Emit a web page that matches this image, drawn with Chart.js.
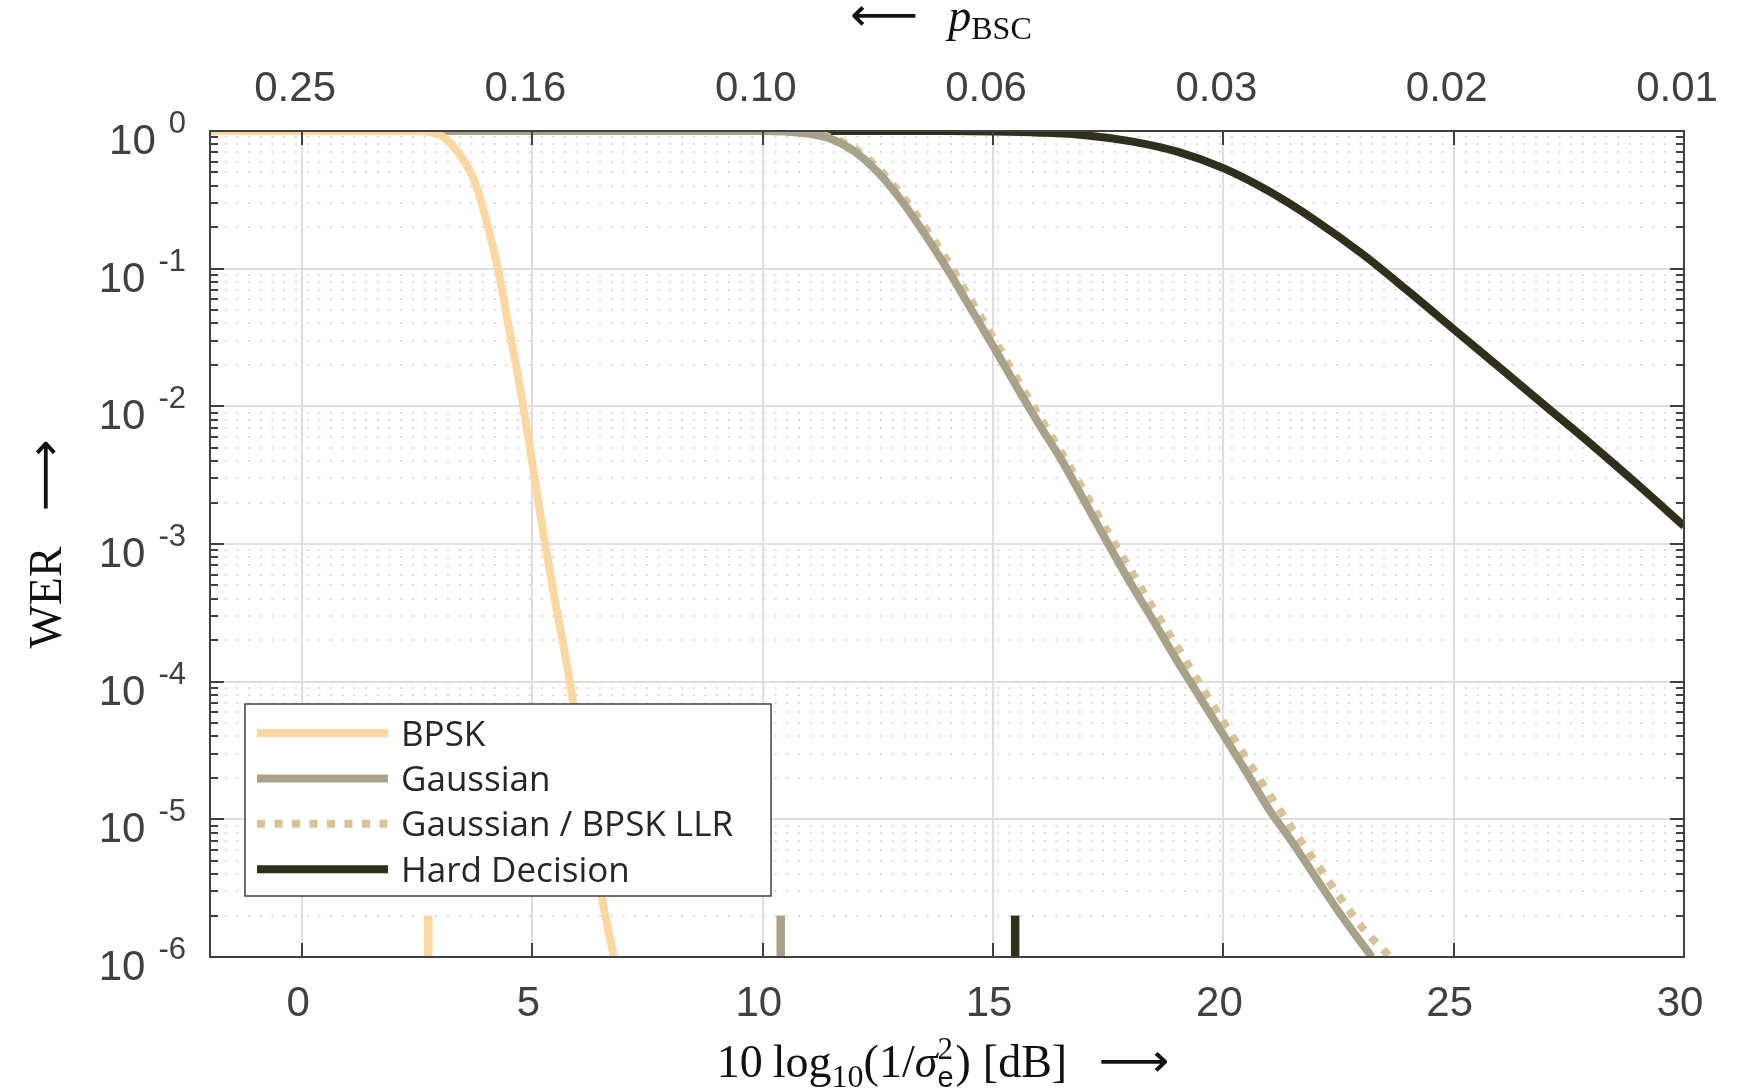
<!DOCTYPE html>
<html>
<head>
<meta charset="utf-8">
<title>WER</title>
<script src="https://cdn.jsdelivr.net/npm/chart.js@4.4.1/dist/chart.umd.min.js"></script>
<style>
  html, body { margin: 0; padding: 0; background: #fff; }
  #wrap { width: 1738px; height: 1091px; }
</style>
</head>
<body>
<div id="wrap"><canvas id="werChart" width="1738" height="1091"></canvas></div>
<script>
// axis ticks
const xTicks = [0, 5, 10, 15, 20, 25, 30];
const pBscLabels = ["0.25", "0.16", "0.10", "0.06", "0.03", "0.02", "0.01"];
const werDecades = [0, -1, -2, -3, -4, -5, -6];

// curves: SNR in dB, WER
const bpskSnr = [-2, 2.5, 2.75, 3.0, 3.25, 3.5, 3.75, 4.0, 4.25, 4.5, 4.75, 5.0, 5.25, 5.5, 5.75, 6.0, 6.25, 6.5, 6.77];
const bpskWer = [1, 0.998, 0.986, 0.933, 0.794, 0.617, 0.427, 0.224, 0.1, 0.0355, 0.0126, 3.8e-3, 1.12e-3, 3.7e-4, 1.32e-4, 4.0e-5, 1.07e-5, 2.8e-6, 1.0e-6];

const gaussSnr = [-2, 10, 10.5, 11, 11.5, 12, 12.5, 13, 13.5, 14, 14.5, 15, 15.5, 16, 16.5, 17, 17.5, 18, 18.5, 19, 19.5, 20, 20.5, 21, 21.5, 22, 22.5, 23.22];
const gaussWer = [1, 1, 0.99, 0.955, 0.871, 0.708, 0.501, 0.316, 0.182, 0.1, 0.0525, 0.0275, 0.0141, 7.4e-3, 4.0e-3, 2.0e-3, 1.0e-3, 5.1e-4, 2.7e-4, 1.41e-4, 7.6e-5, 4.1e-5, 2.2e-5, 1.17e-5, 6.8e-6, 3.8e-6, 2.14e-6, 1.0e-6];

const llrSnr = [-2, 10, 10.5, 11, 11.5, 12, 12.5, 13, 13.5, 14, 14.5, 15, 15.5, 16, 16.5, 17, 17.5, 18, 18.5, 19, 19.5, 20, 20.5, 21, 21.5, 22, 22.5, 23, 23.62];
const llrWer = [1, 1, 0.993, 0.966, 0.891, 0.741, 0.537, 0.347, 0.204, 0.115, 0.0603, 0.0316, 0.0162, 8.5e-3, 4.5e-3, 2.34e-3, 1.2e-3, 6.3e-4, 3.3e-4, 1.78e-4, 9.5e-5, 5.1e-5, 2.75e-5, 1.51e-5, 8.5e-6, 4.9e-6, 2.8e-6, 1.66e-6, 1.0e-6];

const hardSnr = [-2, 12, 14, 15, 16, 17, 18, 19, 20, 21, 22, 23, 24, 25, 26, 27, 28, 29, 30];
const hardWer = [1, 1, 0.998, 0.991, 0.973, 0.933, 0.841, 0.708, 0.537, 0.363, 0.224, 0.129, 0.0692, 0.0363, 0.0191, 0.01, 5.25e-3, 2.69e-3, 1.35e-3];

// short bars on the bottom axis
const markerSnr = [2.74, 10.39, 15.48];
const markerWer = [1e-6, 2e-6];

const colBpsk = "#fdd7a2";
const colGauss = "#a9a28a";
const colLlr = "#d6c398";
const colHard = "#2f2f1b";
const axisColor = "#404040";

const sansFont = "'Liberation Sans', Arial, sans-serif";
const serifFont = "'Liberation Serif', 'Times New Roman', serif";
const arrowFont = "46px 'DejaVu Sans', sans-serif";

function pts(xs, ys) {
    return xs.map((x, i) => ({ x: x, y: ys[i] }));
}

function curve(label, xs, ys, color, order, dash) {
    return {
        label: label,
        data: pts(xs, ys),
        borderColor: color,
        backgroundColor: color,
        borderWidth: 8,
        borderDash: dash || [],
        pointRadius: 0,
        fill: false,
        cubicInterpolationMode: "monotone",
        borderJoinStyle: "round",
        order: order,
    };
}

const markerColors = [colBpsk, colGauss, colHard];
const markerSets = markerSnr.map((s, i) => ({
    label: "",
    data: markerWer.map((w) => ({ x: s, y: w })),
    borderColor: markerColors[i],
    borderWidth: 8.5,
    borderCapStyle: "butt",
    pointRadius: 0,
    fill: false,
    order: 0,
}));

// draws a row of text pieces (sub/superscripts), centred on x
function drawRuns(ctx, runs, cx, base) {
    let cur = 0, prevStart = 0;
    const placed = [];
    runs.forEach((r) => {
        ctx.font = r.f;
        const w = r.fit ? r.fit : ctx.measureText(r.t).width;
        let start = r.same ? prevStart : cur + (r.gap || 0);
        placed.push({ r: r, start: start, w: w, mw: ctx.measureText(r.t).width });
        prevStart = start;
        cur = Math.max(cur, start + w);
    });
    const x0 = cx - cur / 2;
    ctx.textAlign = "left";
    ctx.textBaseline = "alphabetic";
    placed.forEach((p) => {
        ctx.font = p.r.f;
        if (p.r.fit) {
            ctx.save();
            ctx.translate(x0 + p.start, base + (p.r.dy || 0));
            ctx.scale(p.w / p.mw, 1);
            ctx.fillText(p.r.t, 0, 0);
            ctx.restore();
        } else {
            ctx.fillText(p.r.t, x0 + p.start, base + (p.r.dy || 0));
        }
    });
}

function hline(ctx, x1, x2, y) {
    ctx.beginPath(); ctx.moveTo(x1, y); ctx.lineTo(x2, y); ctx.stroke();
}
function vline(ctx, x, y1, y2) {
    ctx.beginPath(); ctx.moveTo(x, y1); ctx.lineTo(x, y2); ctx.stroke();
}

const plotDecor = {
    id: "plotDecor",
    beforeDatasetsDraw(chart) {
        const { ctx, chartArea: a, scales } = chart;
        const x = scales.x, y = scales.y;
        ctx.save();
        // minor (dotted) rows
        ctx.strokeStyle = "#d9d9d9";
        ctx.lineWidth = 2;
        ctx.setLineDash([2, 9.7]);
        for (let k = -6; k < 0; k++) {
            for (let m = 2; m <= 9; m++) {
                const py = Math.round(y.getPixelForValue(m * Math.pow(10, k)));
                hline(ctx, a.left + 3, a.right, py);
            }
        }
        // major grid
        ctx.setLineDash([]);
        ctx.strokeStyle = "#dedede";
        ctx.lineWidth = 2;
        werDecades.forEach((d) => {
            const py = Math.round(y.getPixelForValue(Math.pow(10, d)));
            hline(ctx, a.left, a.right, py);
        });
        xTicks.forEach((v) => {
            const px = Math.round(x.getPixelForValue(v));
            vline(ctx, px, a.top, a.bottom);
        });
        ctx.restore();
    },
    afterDatasetsDraw(chart) {
        const { ctx, chartArea: a, scales } = chart;
        const x = scales.x, y = scales.y;
        ctx.save();
        // box
        ctx.strokeStyle = axisColor;
        ctx.lineWidth = 2;
        ctx.strokeRect(a.left, a.top, a.right - a.left, a.bottom - a.top);
        // ticks on x (in)
        xTicks.forEach((v) => {
            const px = Math.round(x.getPixelForValue(v));
            vline(ctx, px, a.bottom, a.bottom - 14);
            vline(ctx, px, a.top, a.top + 14);
        });
        // ticks on y (in), minor ones shorter
        for (let k = -6; k <= 0; k++) {
            for (let m = 1; m <= 9; m++) {
                const val = m * Math.pow(10, k);
                if (val > 1) break;
                const py = Math.round(y.getPixelForValue(val));
                const len = m === 1 ? 14 : 8;
                hline(ctx, a.left, a.left + len, py);
                hline(ctx, a.right - len, a.right, py);
            }
        }
        // y tick labels: 10 with exponent
        ctx.fillStyle = axisColor;
        ctx.textBaseline = "alphabetic";
        werDecades.forEach((d) => {
            const py = y.getPixelForValue(Math.pow(10, d));
            const sup = String(d);
            ctx.font = "31px " + sansFont;
            ctx.textAlign = "right";
            const supRight = a.left - 24;
            ctx.fillText(sup, supRight, py + 2);
            const sw = ctx.measureText(sup).width;
            ctx.font = "42px " + sansFont;
            ctx.fillText("10", supRight - sw - 13, py + 23);
        });

        // axis titles
        const cx = (a.left + a.right) / 2;
        const cy = (a.top + a.bottom) / 2;
        ctx.fillStyle = "#111";
        drawRuns(ctx, [
            { t: "10", f: "46px " + serifFont },
            { t: "log", f: "46px " + serifFont, gap: 10 },
            { t: "10", f: "32px " + serifFont, dy: 10 },
            { t: "(1/", f: "46px " + serifFont },
            { t: "σ", f: "italic 46px " + serifFont },
            { t: "2", f: "31px " + serifFont, dy: -18 },
            { t: "e", f: "29px " + sansFont, dy: 10, same: true },
            { t: ")", f: "46px " + serifFont, gap: 2 },
            { t: "[dB]", f: "46px " + serifFont, gap: 12 },
            { t: "⟶", f: arrowFont, gap: 31, fit: 71, dy: -1 },
        ], cx - 4, 1077);

        drawRuns(ctx, [
            { t: "⟵", f: arrowFont, fit: 68, dy: -1 },
            { t: "p", f: "italic 46px " + serifFont, gap: 30 },
            { t: "BSC", f: "32px " + serifFont, dy: 8 },
        ], cx - 6, 31);

        ctx.save();
        ctx.translate(61, cy);
        ctx.rotate(-Math.PI / 2);
        drawRuns(ctx, [
            { t: "WER", f: "46px " + serifFont },
            { t: "⟶", f: arrowFont, gap: 35, fit: 72, dy: -1 },
        ], 0, 0);
        ctx.restore();

        // legend box
        const lx = a.left + 35, lw = 526, lh = 192;
        const ly = a.bottom - 61 - lh;
        ctx.fillStyle = "#fff";
        ctx.fillRect(lx, ly, lw, lh);
        ctx.strokeStyle = axisColor;
        ctx.lineWidth = 1.5;
        ctx.strokeRect(lx, ly, lw, lh);
        chart.data.datasets.slice(0, 4).forEach((ds, i) => {
            const ry = ly + 29 + i * 45.4;
            ctx.strokeStyle = ds.borderColor;
            ctx.lineWidth = ds.borderWidth;
            ctx.setLineDash(ds.borderDash || []);
            hline(ctx, lx + 12, lx + 143, ry);
            ctx.setLineDash([]);
            ctx.fillStyle = "#262626";
            ctx.font = "35px 'Open Sans', 'Noto Sans', sans-serif";
            ctx.textAlign = "left";
            ctx.fillText(ds.label, lx + 156, ry + 12.5);
        });
        ctx.restore();
    },
};

const chart = new Chart(document.getElementById("werChart").getContext("2d"), {
    type: "line",
    data: {
        datasets: [
            curve("BPSK", bpskSnr, bpskWer, colBpsk, 1),
            curve("Gaussian", gaussSnr, gaussWer, colGauss, 2),
            curve("Gaussian / BPSK LLR", llrSnr, llrWer, colLlr, 3, [8, 9.5]),
            curve("Hard Decision", hardSnr, hardWer, colHard, 4),
        ].concat(markerSets),
    },
    options: {
        responsive: false,
        animation: false,
        devicePixelRatio: 1,
        layout: { padding: { left: 0, right: 54, top: 0, bottom: 0 } },
        plugins: {
            legend: { display: false },
            tooltip: { enabled: false },
        },
        scales: {
            x: {
                type: "linear",
                position: "bottom",
                min: -2,
                max: 30,
                afterBuildTicks: (s) => { s.ticks = xTicks.map((v) => ({ value: v })); },
                afterFit: (s) => { s.height = 134; s.paddingLeft = 0; s.paddingRight = 0; },
                grid: { display: false, drawTicks: false },
                border: { display: false },
                ticks: {
                    font: { family: sansFont, size: 42 },
                    color: axisColor,
                    padding: 22,
                    labelOffset: -4,
                    maxRotation: 0,
                    autoSkip: false,
                },
            },
            x2: {
                type: "linear",
                position: "top",
                min: -2,
                max: 30,
                afterBuildTicks: (s) => { s.ticks = xTicks.map((v) => ({ value: v })); },
                afterFit: (s) => { s.height = 131; s.paddingLeft = 0; s.paddingRight = 0; },
                grid: { display: false, drawTicks: false },
                border: { display: false },
                ticks: {
                    font: { family: sansFont, size: 42 },
                    color: axisColor,
                    padding: 16,
                    labelOffset: -7,
                    maxRotation: 0,
                    autoSkip: false,
                    callback: (v) => pBscLabels[xTicks.indexOf(v)],
                },
            },
            y: {
                type: "logarithmic",
                min: 1e-6,
                max: 1,
                afterFit: (s) => { s.width = 210; },
                grid: { display: false },
                border: { display: false },
                ticks: { display: false },
            },
        },
    },
    plugins: [plotDecor],
});
</script>
</body>
</html>
